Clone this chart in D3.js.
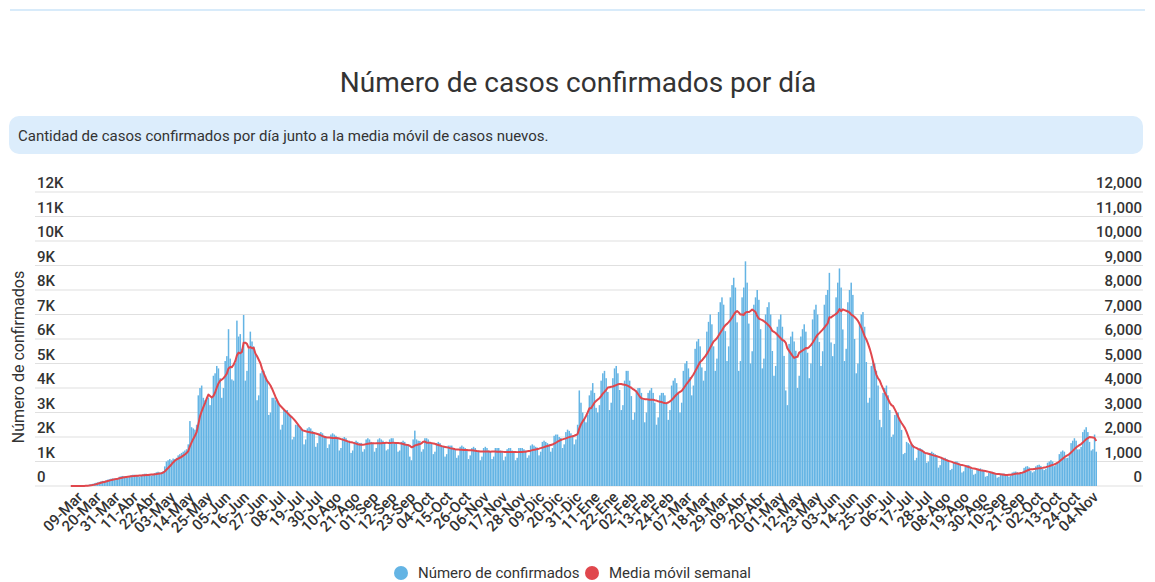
<!DOCTYPE html>
<html>
<head>
<meta charset="utf-8">
<script src="https://cdn.jsdelivr.net/npm/d3@7"></script>
<style>
    body { margin: 0; background: #fff; }
    svg text { font-family: Roboto, "Noto Sans", sans-serif; }
</style>
</head>
<body>
<div id="chart"></div>
<script>
let titulo = 'Número de casos confirmados por día';
let subtitulo = 'Cantidad de casos confirmados por día junto a la media móvil de casos nuevos.';
let tituloEjeY = 'Número de confirmados';
let series = ['Número de confirmados', 'Media móvil semanal'];

let fechaInicio = new Date(2020, 2, 3);  // 03-Mar-2020
let meses = ['Ene', 'Feb', 'Mar', 'Abr', 'May', 'Jun', 'Jul', 'Ago', 'Sep', 'Oct', 'Nov', 'Dic'];
let ticksY = [0, 1000, 2000, 3000, 4000, 5000, 6000, 7000, 8000, 9000, 10000, 11000, 12000];
let primeraEtiqueta = 6;   // 09-Mar
let pasoEtiquetas = 11;

// casos confirmados por día, una semana (lun-dom) por fila
let casosDiarios = [
    1, 2, 1, 1, 2, 3,
    5, 8, 12, 20, 30, 60, 75,
    90, 110, 130, 150, 170, 190, 210,
    200, 230, 260, 280, 300, 310, 310,
    290, 320, 380, 400, 410, 390, 400,
    350, 370, 440, 460, 460, 430, 430,
    380, 410, 470, 500, 500, 480, 480,
    430, 450, 520, 560, 580, 550, 550,
    600, 800, 1000, 1050, 1100, 1050, 1120,
    1100, 1150, 1250, 1300, 1350, 1400, 1450,
    1500, 1700, 2650, 2400, 2350, 2300, 2500,
    3700, 4000, 4100, 3600, 3500, 3600, 3610,
    3300, 3600, 4500, 4600, 4900, 4800, 4400,
    3600, 4000, 5100, 5300, 6400, 5200, 4350,
    4300, 5020, 6750, 6100, 6200, 5600, 6980,
    4300, 4700, 5600, 6300, 5900, 5700, 5370,
    3500, 3700, 4600, 4700, 4700, 4500, 4330,
    2900, 3000, 3600, 3600, 3500, 3500, 3350,
    2300, 2500, 3100, 3100, 3100, 2950, 2900,
    1900, 2000, 2500, 2500, 2450, 2350, 2260,
    1700, 1900, 2350, 2400, 2350, 2250, 2170,
    1600, 1750, 2150, 2200, 2150, 2050, 2030,
    1550, 1700, 2100, 2150, 2100, 2050, 2000,
    1450, 1550, 1950, 2000, 1950, 1850, 1850,
    1350, 1450, 1800, 1850, 1800, 1750, 1760,
    1400, 1500, 1900, 1950, 1900, 1800, 1730,
    1400, 1550, 1900, 1950, 1900, 1850, 1770,
    1450, 1500, 1900, 1950, 1950, 1800, 1770,
    1400, 1450, 1800, 1850, 1800, 1700, 1690,
    1200, 1050, 1900, 2260, 1900, 1850, 1840,
    1400, 1500, 1950, 1950, 1900, 1800, 1750,
    1300, 1400, 1750, 1800, 1750, 1650, 1620,
    1200, 1300, 1650, 1650, 1650, 1550, 1500,
    1150, 1250, 1600, 1650, 1600, 1550, 1490,
    1100, 1250, 1550, 1600, 1550, 1450, 1440,
    1050, 1200, 1550, 1600, 1550, 1450, 1400,
    1100, 1200, 1550, 1550, 1550, 1450, 1400,
    1050, 1200, 1500, 1550, 1550, 1450, 1430,
    1050, 1150, 1550, 1550, 1550, 1500, 1450,
    1150, 1250, 1650, 1700, 1650, 1600, 1570,
    1250, 1400, 1800, 1850, 1800, 1750, 1700,
    1400, 1550, 2050, 2100, 2100, 2000, 1960,
    1550, 1700, 2200, 2300, 2250, 2150, 2060,
    1700, 1900, 2500, 3900, 3400, 3000, 2710,
    2600, 2900, 3700, 3900, 4200, 3800, 3190,
    3000, 3300, 4300, 4600, 4700, 4400, 3840,
    3100, 3400, 4400, 4800, 4900, 4600, 3920,
    3100, 3300, 4300, 4700, 4700, 4300, 3670,
    2700, 3000, 3900, 4000, 4000, 3800, 3520,
    2600, 3000, 3800, 3900, 4000, 3800, 3400,
    2500, 2800, 3700, 3800, 3800, 3700, 3360,
    2700, 3100, 4100, 4300, 4400, 4200, 3800,
    3000, 3400, 4700, 5000, 5100, 4800, 4450,
    3700, 4100, 5600, 5900, 6000, 5700, 4840,
    4300, 4700, 6300, 6700, 7000, 6600, 5700,
    4700, 5200, 7100, 7500, 7700, 7400, 6320,
    5100, 5700, 7700, 8200, 8500, 8100, 6680,
    4700, 5100, 7700, 8100, 9170, 8300, 6630,
    5000, 5500, 7400, 7700, 8000, 7600, 6400,
    4800, 5200, 7000, 7300, 7500, 7000, 5510,
    4500, 4900, 6500, 6800, 7000, 6500, 5310,
    3900, 3300, 5800, 6100, 6300, 5900, 5520,
    4000, 4500, 6100, 6400, 6600, 6300, 5440,
    4400, 5000, 6800, 7200, 7400, 7000, 5880,
    4900, 5500, 7400, 7800, 8000, 8700, 5860,
    5300, 5800, 7700, 8300, 8880, 8100, 6390,
    5100, 5600, 7500, 8000, 8300, 7800, 6000,
    4600, 5000, 6600, 7000, 7100, 6500, 5060,
    3400, 3600, 4900, 5100, 5000, 4700, 4100,
    2700, 2400, 3800, 4000, 4100, 3700, 3100,
    2000, 2100, 2900, 3000, 3000, 2700, 2290,
    1300, 1350, 1800, 1750, 1700, 1700, 1670,
    1050, 1150, 1500, 1550, 1500, 1400, 1300,
    950, 1000, 1350, 1400, 1350, 1300, 1190,
    750, 850, 1150, 1150, 1150, 1100, 990,
    650, 700, 950, 1000, 1000, 950, 840,
    550, 600, 800, 850, 850, 780, 680,
    460, 500, 670, 700, 720, 670, 620,
    380, 410, 540, 570, 580, 540, 480,
    340, 370, 480, 500, 510, 480, 470,
    380, 420, 550, 580, 590, 560, 490,
    500, 550, 740, 790, 810, 760, 610,
    550, 600, 800, 850, 870, 820, 690,
    650, 700, 950, 1000, 1050, 1000, 810,
    900, 950, 1300, 1400, 1450, 1400, 1140,
    1150, 1300, 1750, 1850, 1950, 1850, 1490,
    1500, 1600, 2200, 2300, 2400, 2200, 1800,
    1450, 1500, 2100, 1400
];

(function () {
    let width = 1155, height = 582;
    let colorBarra = '#64b4e4';
    let colorLinea = '#e0474d';
    let colorTexto = '#333333';

    let svg = d3.select('#chart')
        .append('svg')
        .attr('width', width)
        .attr('height', height);

    // línea superior del panel
    svg.append('line')
        .attr('x1', 10).attr('x2', 1145)
        .attr('y1', 10).attr('y2', 10)
        .attr('stroke', '#d8ebfa')
        .attr('stroke-width', 2);

    svg.append('text')
        .attr('x', 578).attr('y', 92)
        .attr('text-anchor', 'middle')
        .attr('font-size', 28)
        .attr('fill', colorTexto)
        .text(titulo);

    // caja del subtítulo
    svg.append('rect')
        .attr('x', 9).attr('y', 116)
        .attr('width', 1134).attr('height', 38)
        .attr('rx', 10)
        .attr('fill', '#dcedfc');

    svg.append('text')
        .attr('x', 18).attr('y', 141)
        .attr('font-size', 15)
        .attr('fill', colorTexto)
        .text(subtitulo);

    let fechas = casosDiarios.map(function (d, i) {
        return d3.timeDay.offset(fechaInicio, i);
    });
    // media móvil de 7 días
    let media = casosDiarios.map(function (d, i) {
        return d3.mean(casosDiarios.slice(Math.max(0, i - 6), i + 1));
    });

    let x = d3.scaleBand()
        .domain(d3.range(casosDiarios.length))
        .range([70, 1097])
        .paddingInner(0.1);

    let y = d3.scaleLinear()
        .domain([0, 12000])
        .range([486, 192]);

    // líneas de cuadrícula
    svg.append('g')
        .selectAll('line')
        .data(ticksY)
        .enter()
        .append('line')
        .attr('x1', 35).attr('x2', 1143)
        .attr('y1', function (d) { return y(d); })
        .attr('y2', function (d) { return y(d); })
        .attr('stroke', '#e0e0e0')
        .attr('stroke-width', 1.2);

    // etiquetas eje izquierdo
    svg.append('g')
        .selectAll('text')
        .data(ticksY)
        .enter()
        .append('text')
        .attr('x', 37)
        .attr('y', function (d) { return y(d) - 4; })
        .attr('font-size', 15)
        .attr('font-weight', 500)
        .attr('fill', colorTexto)
        .text(function (d) { return d === 0 ? '0' : (d / 1000) + 'K'; });

    // etiquetas eje derecho
    svg.append('g')
        .selectAll('text')
        .data(ticksY)
        .enter()
        .append('text')
        .attr('x', 1142)
        .attr('y', function (d) { return y(d) - 4; })
        .attr('text-anchor', 'end')
        .attr('font-size', 15)
        .attr('font-weight', 500)
        .attr('fill', colorTexto)
        .text(d3.format(','));

    svg.append('text')
        .attr('transform', 'translate(24,357) rotate(-90)')
        .attr('text-anchor', 'middle')
        .attr('font-size', 16)
        .attr('fill', colorTexto)
        .text(tituloEjeY);

    // barras
    svg.append('g')
        .selectAll('rect')
        .data(casosDiarios)
        .enter()
        .append('rect')
        .attr('x', function (d, i) { return x(i); })
        .attr('y', function (d) { return y(d); })
        .attr('width', x.bandwidth())
        .attr('height', function (d) { return y(0) - y(d); })
        .attr('fill', colorBarra);

    let linea = d3.line()
        .x(function (d, i) { return x(i) + x.bandwidth() / 2; })
        .y(function (d) { return y(d); });

    svg.append('path')
        .datum(media)
        .attr('d', linea)
        .attr('fill', 'none')
        .attr('stroke', colorLinea)
        .attr('stroke-width', 2)
        .attr('stroke-linejoin', 'round');

    // eje x con fechas
    let formatoFecha = function (i) {
        let f = fechas[i];
        return d3.timeFormat('%d')(f) + '-' + meses[f.getMonth()];
    };

    let ejeX = d3.axisBottom(x)
        .tickValues(d3.range(primeraEtiqueta, casosDiarios.length, pasoEtiquetas))
        .tickSize(0)
        .tickFormat(formatoFecha);

    let gX = svg.append('g')
        .attr('transform', 'translate(0,' + y(0) + ')')
        .call(ejeX);
    gX.select('.domain').remove();
    gX.selectAll('text')
        .attr('x', 0).attr('y', 0).attr('dy', 0)
        .attr('transform', 'translate(3,12) rotate(-45)')
        .attr('text-anchor', 'end')
        .attr('font-size', 15)
        .attr('font-weight', 500)
        .attr('font-family', 'Roboto, "Noto Sans", sans-serif')
        .attr('fill', colorTexto);

    // leyenda
    let leyenda = svg.append('g');
    let colores = [colorBarra, colorLinea];
    let posX = [401, 592];
    leyenda.selectAll('circle')
        .data(series)
        .enter()
        .append('circle')
        .attr('cx', function (d, i) { return posX[i]; })
        .attr('cy', 573)
        .attr('r', 7)
        .attr('fill', function (d, i) { return colores[i]; });
    leyenda.selectAll('text')
        .data(series)
        .enter()
        .append('text')
        .attr('x', function (d, i) { return posX[i] + 17; })
        .attr('y', 578)
        .attr('font-size', 15)
        .attr('fill', colorTexto)
        .text(function (d) { return d; });
})();
</script>
</body>
</html>
